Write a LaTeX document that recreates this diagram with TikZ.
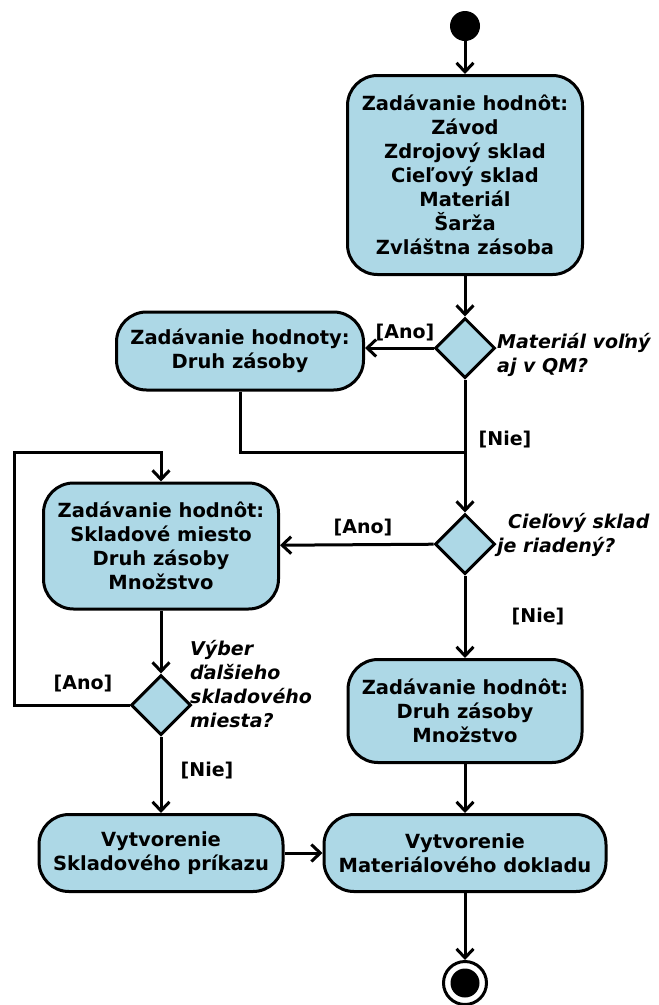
\documentclass[tikz,border=0pt]{standalone}
\usepackage{fontspec}
\setmainfont{DejaVu Sans}
\usetikzlibrary{shapes.geometric,arrows.meta}
\definecolor{boxblue}{HTML}{ADD8E6}
\begin{document}
\begin{tikzpicture}[x=1pt,y=-1pt,
  lw/.style={line width=3pt},
  actbox/.style={draw,lw,fill=boxblue,rounded corners=30pt,align=center,font=\fontsize{19.5}{24}\selectfont\bfseries,inner sep=0pt},
  decis/.style={draw,lw,fill=boxblue,diamond,minimum width=60pt,minimum height=60pt,inner sep=0pt},
  guard/.style={font=\fontsize{19}{24}\selectfont\bfseries,inner sep=0pt},
  quest/.style={font=\fontsize{19}{24}\selectfont\bfseries\itshape,inner sep=0pt,align=left,anchor=west},
  arr/.style={lw,-{Straight Barb[length=9pt,width=17pt]}},
  conn/.style={lw}
]
\useasboundingbox (0,0) rectangle (659,1005);
\node[circle,fill=black,minimum size=30pt,inner sep=0pt] (start) at (465,26) {};
\node[actbox,minimum width=235pt,minimum height=199pt] (b1) at (465,175) {Zadávanie hodnôt:\\Závod\\Zdrojový sklad\\Cieľový sklad\\Materiál\\Šarža\\Zvláštna zásoba};
\node[decis] (d1) at (465,348) {};
\node[actbox,minimum width=247pt,minimum height=78pt] (b2) at (240,351) {Zadávanie hodnoty:\\Druh zásoby};
\coordinate (j1) at (465,452);
\coordinate (lp) at (14,452);
\node[decis] (d2) at (465,544) {};
\node[actbox,minimum width=235pt,minimum height=126pt] (b3) at (161,546) {Zadávanie hodnôt:\\Skladové miesto\\Druh zásoby\\Množstvo};
\node[actbox,minimum width=234pt,minimum height=103pt] (b4) at (465,711) {Zadávanie hodnôt:\\Druh zásoby\\Množstvo};
\node[decis] (d3) at (161,705) {};
\node[actbox,minimum width=244pt,minimum height=77pt] (b5) at (161,853) {Vytvorenie\\Skladového príkazu};
\node[actbox,minimum width=282pt,minimum height=77pt] (b6) at (465,853) {Vytvorenie\\Materiálového dokladu};
\node[circle,draw,lw,fill=white,minimum size=43pt,inner sep=0pt] (end) at (465,983) {};
\fill (end.center) circle (14.5pt);

\node[guard] (g1) at (405,333) {[Ano]};
\node[guard] (g2) at (505,440) {[Nie]};
\node[guard] (g3) at (363,528) {[Ano]};
\node[guard] (g4) at (538,617) {[Nie]};
\node[guard] (g5) at (83,684) {[Ano]};
\node[guard] (g6) at (207,771) {[Nie]};
\node[quest] (q1) at (497,355) {Materiál voľný\\aj v QM?};
\node[quest] (q2) at (497,535) {\hspace*{11pt}Cieľový sklad\\je riadený?};
\node[quest] (q3) at (190,684) {Výber\\ďalšieho\\skladového\\miesta?};

\draw[arr] (start) -- (b1);
\draw[arr] (b1) -- (d1);
\draw[arr] (d1.west) -- (b2.east |- d1.west);
\draw[arr] (d1) -- (d2);
\draw[conn] (b2.south) |- (j1);
\draw[arr] (d2) -- (b3);
\draw[arr] (d2) -- (b4);
\draw[arr] (b3) -- (d3);
\draw[arr] (d3.west) -| (lp) -| (b3.north);
\draw[arr] (d3) -- (b5);
\draw[arr] (b5) -- (b6);
\draw[arr] (b4) -- (b6);
\draw[arr] (b6) -- (end);
\end{tikzpicture}
\end{document}
